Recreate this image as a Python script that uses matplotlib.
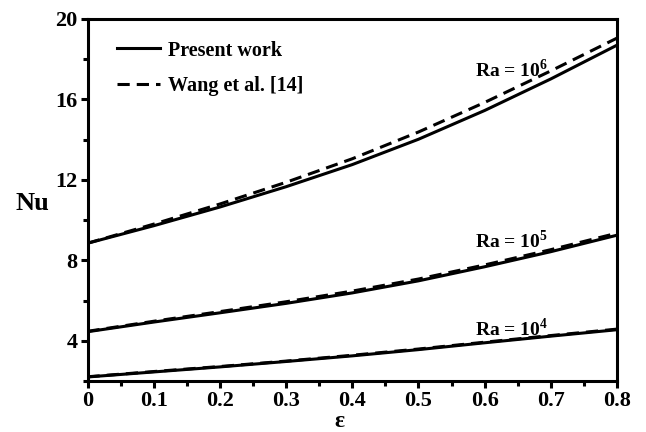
import matplotlib
matplotlib.use("Agg")
import matplotlib.pyplot as plt
from matplotlib.ticker import MultipleLocator

eps = [0.0, 0.1, 0.2, 0.3, 0.4, 0.5, 0.6, 0.7, 0.8]

# present work
nu_e6 = [8.85, 9.72, 10.65, 11.66, 12.76, 14.02, 15.45, 17.02, 18.7]
nu_e5 = [4.45, 4.93, 5.39, 5.86, 6.38, 6.98, 7.68, 8.43, 9.25]
nu_e4 = [2.2, 2.45, 2.7, 2.97, 3.25, 3.56, 3.9, 4.23, 4.55]

# Wang et al. [14]
wang_e6 = [8.85, 9.8, 10.8, 11.88, 13.05, 14.38, 15.85, 17.42, 19.05]
wang_e5 = [4.47, 4.97, 5.45, 5.94, 6.47, 7.07, 7.77, 8.53, 9.35]
wang_e4 = [2.21, 2.47, 2.72, 2.99, 3.28, 3.59, 3.93, 4.26, 4.58]

ra_labels = ["Ra = 10$^{\\mathbf{6}}$", "Ra = 10$^{\\mathbf{5}}$", "Ra = 10$^{\\mathbf{4}}$"]
ra_pos = [(0.64, 17.45), (0.64, 8.95), (0.64, 4.6)]

plt.rcParams['font.family'] = 'Liberation Serif'
plt.rcParams['font.weight'] = 'bold'
plt.rcParams['mathtext.fontset'] = 'custom'
plt.rcParams['mathtext.rm'] = 'Liberation Serif:bold'
plt.rcParams['mathtext.bf'] = 'Liberation Serif:bold'

fig = plt.figure(figsize=(6.46, 4.32), dpi=100)
ax = fig.add_axes([87.5/646, 1 - 381/432, (617 - 87.5)/646, (381 - 19)/432])

lw = 2.2
dash = (0, (4, 2.3))
ax.plot(eps, nu_e6, color='black', lw=lw, label='Present work')
ax.plot(eps, wang_e6, color='black', lw=lw, ls=dash, label='Wang et al. [14]')
ax.plot(eps, nu_e5, color='black', lw=lw)
ax.plot(eps, wang_e5, color='black', lw=lw, ls=dash)
ax.plot(eps, nu_e4, color='black', lw=lw)
ax.plot(eps, wang_e4, color='black', lw=lw, ls=dash)

for lab, (x, y) in zip(ra_labels, ra_pos):
    ax.text(x, y, lab, fontsize=14, fontweight='bold', ha='center', va='center')

ax.set_xlim(0, 0.8)
ax.set_ylim(2, 20)
ax.xaxis.set_minor_locator(MultipleLocator(0.05))
ax.yaxis.set_minor_locator(MultipleLocator(2))
ax.set_xticks([0, 0.1, 0.2, 0.3, 0.4, 0.5, 0.6, 0.7, 0.8])
ax.set_xticklabels(['0', '0.1', '0.2', '0.3', '0.4', '0.5', '0.6', '0.7', '0.8'])
ax.set_yticks([4, 8, 12, 16, 20])

for s in ax.spines.values():
    s.set_linewidth(2.2)
ax.tick_params(which='major', direction='out', length=5, width=2.2, labelsize=16, pad=2)
ax.tick_params(which='minor', direction='out', length=3.5, width=2.2)

ax.set_xlabel('ε', fontsize=17, fontweight='bold')
ax.xaxis.set_label_coords(0.475, -0.082)
ax.set_ylabel('Nu', fontsize=19, fontweight='bold', rotation=0, va='center', ha='center')
ax.yaxis.set_label_coords(-0.104, 0.49)

leg = ax.legend(loc='upper left', frameon=False, fontsize=14.5, handlelength=2.15,
                handletextpad=0.4, borderaxespad=0.4, labelspacing=0.75,
                bbox_to_anchor=(0.025, 0.985))

fig.savefig('out.png', dpi=100)
